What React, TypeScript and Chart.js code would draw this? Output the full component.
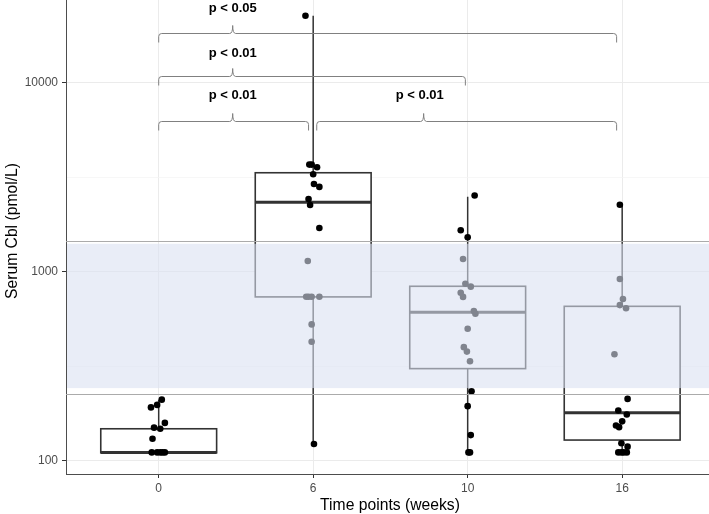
import React, { useEffect, useRef } from 'react';
import { Chart, registerables } from 'chart.js';

Chart.register(...registerables);

const FONT = '"Liberation Sans", Arial, Helvetica, sans-serif';

// Categories (time points, weeks)
const categories = ['0', '6', '10', '16'];

// Y axis ticks
const yMajorTicks = [100, 1000, 10000];
const yMinorTicks = [316.23, 3162.3];
const yMin = 85.3;
const yMax = 27490;

// Individual measurements per time point and their horizontal jitter (category units)
const values0 = [211, 198, 192, 159, 150, 148, 131, 111, 111, 111, 111, 111];
const jitter0 = [0.02, -0.01, -0.05, 0.04, -0.03, 0.01, -0.04, -0.045, -0.01, 0.01, 0.025, 0.04];

const values6 = [22700, 3700, 3700, 3580, 3290, 2920, 2820, 2430, 2260, 1710, 1143, 740, 740, 740, 740, 528, 427, 123];
const jitter6 = [-0.05, -0.025, -0.01, 0.025, 0, 0.005, 0.04, -0.03, -0.02, 0.04, -0.035, -0.045, -0.03, -0.01, 0.04, -0.01, -0.01, 0.005];

const values10 = [2540, 1663, 1528, 1172, 867, 836, 776, 738, 622, 601, 501, 400, 379, 337, 234, 195, 137, 111, 111];
const jitter10 = [0.045, -0.045, 0, -0.03, -0.015, 0.02, -0.045, -0.03, 0.04, 0.05, 0, -0.025, -0.005, 0.015, 0.025, 0, 0.02, 0.005, 0.015];

const values16 = [2270, 918, 719, 668, 643, 367, 213, 185, 176, 162, 154, 151, 124, 119, 111, 111, 111, 111];
const jitter16 = [-0.015, -0.015, 0.005, -0.015, 0.025, -0.05, 0.035, -0.025, 0.03, 0, -0.04, -0.02, -0.005, 0.035, -0.025, -0.005, 0.01, 0.03];

// Box plot statistics per time point
const boxLow = [111, 123, 111, 111];
const boxQ1 = [110.5, 738, 308, 129];
const boxMedian = [111, 2340, 612, 180];
const boxQ3 = [148, 3350, 840, 658];
const boxHigh = [211, 22700, 2500, 2270];

// Reference range band and lines
const bandLow = 243;
const bandHigh = 1410;
const refLineLow = 226;
const refLineHigh = 1460;

// Significance brackets
const bracketStart = [0, 0, 0, 1.023];
const bracketEnd = [2.964, 1.985, 0.97, 2.964];
const bracketMid = [0.479, 0.479, 0.479, 1.715];
const bracketY = [18390, 10890, 6295, 6295];
const bracketLabels = ['p < 0.05', 'p < 0.01', 'p < 0.01', 'p < 0.01'];
const bracketLabelX = [0.479, 0.479, 0.479, 1.69];
const bracketLabelY = [24950, 14410, 8600, 8600];

const allValues = [values0, values6, values10, values16];
const allJitter = [jitter0, jitter6, jitter10, jitter16];

const boxPlugin = {
  id: 'boxes',
  beforeDatasetsDraw(chart: any) {
    const { ctx, chartArea, scales } = chart;
    const x = scales.x;
    const y = scales.y;
    ctx.save();
    ctx.beginPath();
    ctx.rect(chartArea.left, chartArea.top, chartArea.right - chartArea.left, chartArea.bottom - chartArea.top);
    ctx.clip();
    for (let i = 0; i < categories.length; i++) {
      const cx = x.getPixelForValue(i);
      const l = x.getPixelForValue(i - 0.375);
      const r = x.getPixelForValue(i + 0.375);
      const yq1 = y.getPixelForValue(boxQ1[i]);
      const yq3 = y.getPixelForValue(boxQ3[i]);
      const ymed = y.getPixelForValue(boxMedian[i]);
      const ylo = y.getPixelForValue(boxLow[i]);
      const yhi = y.getPixelForValue(boxHigh[i]);
      ctx.strokeStyle = '#333333';
      ctx.lineWidth = 1.5;
      ctx.beginPath();
      ctx.moveTo(cx, yq3);
      ctx.lineTo(cx, yhi);
      ctx.moveTo(cx, yq1);
      ctx.lineTo(cx, ylo);
      ctx.stroke();
      ctx.fillStyle = '#ffffff';
      ctx.fillRect(l, yq3, r - l, yq1 - yq3);
      ctx.lineWidth = 1.6;
      ctx.strokeRect(l, yq3, r - l, yq1 - yq3);
      ctx.lineWidth = 3;
      ctx.beginPath();
      ctx.moveTo(l, ymed);
      ctx.lineTo(r, ymed);
      ctx.stroke();
    }
    ctx.restore();
  },
};

const overlayPlugin = {
  id: 'overlay',
  afterDatasetsDraw(chart: any) {
    const { ctx, chartArea, scales } = chart;
    const x = scales.x;
    const y = scales.y;
    ctx.save();
    ctx.beginPath();
    ctx.rect(chartArea.left, chartArea.top, chartArea.right - chartArea.left, chartArea.bottom - chartArea.top);
    ctx.clip();
    // band
    const yb1 = y.getPixelForValue(bandHigh);
    const yb2 = y.getPixelForValue(bandLow);
    ctx.fillStyle = 'rgba(217,224,242,0.59)';
    ctx.fillRect(chartArea.left + 1, yb1, chartArea.right - chartArea.left, yb2 - yb1);
    // reference lines
    ctx.strokeStyle = '#ababab';
    ctx.lineWidth = 1.1;
    ctx.beginPath();
    for (const v of [refLineHigh, refLineLow]) {
      const yy = Math.round(y.getPixelForValue(v)) + 0.5;
      ctx.moveTo(chartArea.left, yy);
      ctx.lineTo(chartArea.right, yy);
    }
    ctx.stroke();
    // brackets
    ctx.strokeStyle = '#808080';
    ctx.lineWidth = 1;
    for (let i = 0; i < bracketStart.length; i++) {
      const x1 = x.getPixelForValue(bracketStart[i]);
      const x2 = x.getPixelForValue(bracketEnd[i]);
      const xm = x.getPixelForValue(bracketMid[i]);
      const yy = Math.round(y.getPixelForValue(bracketY[i])) + 0.5;
      const drop = 9;
      const rise = 8;
      ctx.beginPath();
      ctx.moveTo(x1, yy + drop);
      ctx.lineTo(x1, yy + 3);
      ctx.quadraticCurveTo(x1, yy, x1 + 3, yy);
      ctx.lineTo(xm - 3, yy);
      ctx.quadraticCurveTo(xm, yy, xm, yy - rise);
      ctx.quadraticCurveTo(xm, yy, xm + 3, yy);
      ctx.lineTo(x2 - 3, yy);
      ctx.quadraticCurveTo(x2, yy, x2, yy + 3);
      ctx.lineTo(x2, yy + drop);
      ctx.stroke();
      ctx.fillStyle = '#000000';
      ctx.font = `bold 13px ${FONT}`;
      ctx.textAlign = 'center';
      ctx.textBaseline = 'middle';
      ctx.fillText(bracketLabels[i], x.getPixelForValue(bracketLabelX[i]), y.getPixelForValue(bracketLabelY[i]));
    }
    ctx.restore();
  },
  afterDraw(chart: any) {
    const { ctx } = chart;
    ctx.save();
    ctx.fillStyle = '#000000';
    ctx.font = `15.7px ${FONT}`;
    ctx.textAlign = 'center';
    ctx.textBaseline = 'alphabetic';
    ctx.fillText('Time points (weeks)', 390, 510);
    ctx.translate(16.5, 231);
    ctx.rotate(-Math.PI / 2);
    ctx.fillText('Serum Cbl (pmol/L)', 0, 0);
    ctx.restore();
  },
};

export default function App() {
  const ref = useRef<HTMLCanvasElement | null>(null);
  useEffect(() => {
    if (!ref.current) return;
    const points: { x: number; y: number }[] = [];
    allValues.forEach((arr, i) => {
      arr.forEach((v, j) => points.push({ x: i + allJitter[i][j], y: v }));
    });
    const isMajor = (v: number) => yMajorTicks.some((t) => Math.abs(t - v) / t < 0.01);
    const chart = new Chart(ref.current, {
      type: 'scatter',
      data: {
        datasets: [
          {
            data: points,
            backgroundColor: '#000000',
            borderWidth: 0,
            pointRadius: 3.3,
            pointHoverRadius: 3.3,
            clip: false as any,
          },
        ],
      },
      options: {
        animation: false,
        responsive: false,
        devicePixelRatio: 1,
        events: [],
        layout: { padding: 0, autoPadding: false },
        plugins: { legend: { display: false }, tooltip: { enabled: false } },
        scales: {
          x: {
            type: 'linear',
            min: -0.6,
            max: 3.562,
            afterBuildTicks: (s: any) => {
              s.ticks = categories.map((_, i) => ({ value: i }));
            },
            afterFit: (s: any) => {
              s.height = 40;
              s.paddingLeft = 0;
              s.paddingRight = 0;
            },
            ticks: {
              callback: (v: any) => categories[Math.round(Number(v))] ?? '',
              color: '#4d4d4d',
              font: { size: 12, family: FONT },
              padding: 3,
              maxRotation: 0,
              autoSkip: false,
            },
            grid: { color: '#ebebeb', lineWidth: 1, tickLength: 4, tickColor: '#333333', tickWidth: 1 },
            border: { display: true, color: '#4d4d4d', width: 1 },
          },
          y: {
            type: 'logarithmic',
            min: yMin,
            max: yMax,
            afterBuildTicks: (s: any) => {
              s.ticks = [...yMajorTicks, ...yMinorTicks].sort((a, b) => a - b).map((v) => ({ value: v }));
            },
            afterFit: (s: any) => {
              s.width = 66;
              s.paddingTop = 0;
              s.paddingBottom = 0;
            },
            ticks: {
              callback: (v: any) => (isMajor(Number(v)) ? String(Math.round(Number(v))) : ''),
              color: '#4d4d4d',
              font: { size: 12, family: FONT },
              padding: 4,
              autoSkip: false,
            },
            grid: {
              color: (c: any) => (c.tick && isMajor(c.tick.value) ? '#ebebeb' : '#f4f4f4'),
              lineWidth: (c: any) => (c.tick && isMajor(c.tick.value) ? 1 : 0.7),
              tickLength: 4,
              tickColor: (c: any) => (c.tick && isMajor(c.tick.value) ? '#333333' : 'rgba(0,0,0,0)'),
              tickWidth: 1,
            },
            border: { display: true, color: '#4d4d4d', width: 1 },
          },
        },
      },
      plugins: [boxPlugin, overlayPlugin],
    } as any);
    return () => chart.destroy();
  }, []);
  return (
    <div style={{ position: 'fixed', left: 0, top: 0, width: 709, height: 514, background: '#fff' }}>
      <canvas ref={ref} width={709} height={514} style={{ display: 'block' }} />
    </div>
  );
}
